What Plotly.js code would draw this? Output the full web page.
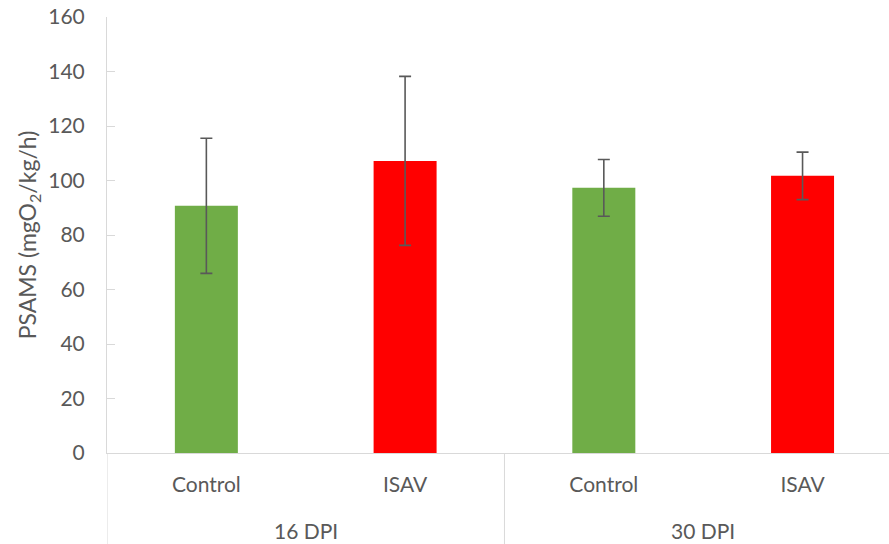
<!DOCTYPE html>
<html>
<head>
<meta charset="utf-8">
<script src="https://cdn.plot.ly/plotly-3.0.1.min.js"></script>
<style>html,body{margin:0;padding:0;background:#fff;}#chart{width:889px;height:544px;}</style>
</head>
<body>
<div id="chart"></div>
<script>
const groups = ['16 DPI', '30 DPI'];
const treatments = ['Control', 'ISAV', 'Control', 'ISAV'];
const means = [90.7, 107.2, 97.3, 101.7];
const errors = [24.8, 31.0, 10.4, 8.7];
const treatmentColors = {Control: '#70AD47', ISAV: '#FF0000'};

const axisGray = '#D9D9D9';
const textGray = '#595959';
const fontFamily = 'Lato, "Open Sans", sans-serif';

const positions = treatments.map((_, i) => i);

const trace = {
  type: 'bar',
  x: positions,
  y: means,
  width: 0.317,
  marker: {color: treatments.map(t => treatmentColors[t])},
  error_y: {type: 'data', array: errors, visible: true, color: textGray, thickness: 1.6, width: 6},
  hoverinfo: 'y'
};

// group label annotations and divider shapes derived from group index
const perGroup = treatments.length / groups.length;
const annotations = groups.map((g, gi) => ({
  text: g, xref: 'x', yref: 'paper',
  x: gi * perGroup + (perGroup - 1) / 2, y: 0,
  yshift: -77, xanchor: 'center', yanchor: 'middle', showarrow: false,
  font: {family: fontFamily, size: 21, color: textGray}
}));
const shapes = [];
for (let gi = 0; gi <= groups.length; gi++) {
  shapes.push({
    type: 'line', xref: 'x', yref: 'paper',
    x0: gi * perGroup - 0.5, x1: gi * perGroup - 0.5,
    y0: 0, y1: -0.21,
    line: {color: axisGray, width: 1}
  });
}

const layout = {
  width: 889,
  height: 544,
  margin: {l: 107, r: 0, t: 17, b: 91},
  paper_bgcolor: '#fff',
  plot_bgcolor: '#fff',
  showlegend: false,
  font: {family: fontFamily, size: 21, color: textGray},
  xaxis: {
    range: [-0.5, 3.435],
    showline: true,
    linecolor: axisGray,
    linewidth: 1,
    ticks: '',
    showgrid: false,
    zeroline: false,
    tickvals: positions,
    ticktext: treatments,
    ticklabelstandoff: 13,
    tickfont: {family: fontFamily, size: 21, color: textGray}
  },
  yaxis: {
    range: [0, 160],
    dtick: 20,
    showline: true,
    linecolor: axisGray,
    linewidth: 1,
    showgrid: false,
    zeroline: false,
    ticks: 'inside',
    ticklen: 8,
    tickcolor: axisGray,
    ticklabelstandoff: 17,
    tickfont: {family: fontFamily, size: 21, color: textGray},
    title: {text: 'PSAMS (mgO<sub>2</sub>/kg/h)', font: {family: fontFamily, size: 23, color: textGray}, standoff: 5}
  },
  annotations: annotations,
  shapes: shapes
};

Plotly.newPlot('chart', [trace], layout, {displayModeBar: false, staticPlot: true});
</script>
</body>
</html>
